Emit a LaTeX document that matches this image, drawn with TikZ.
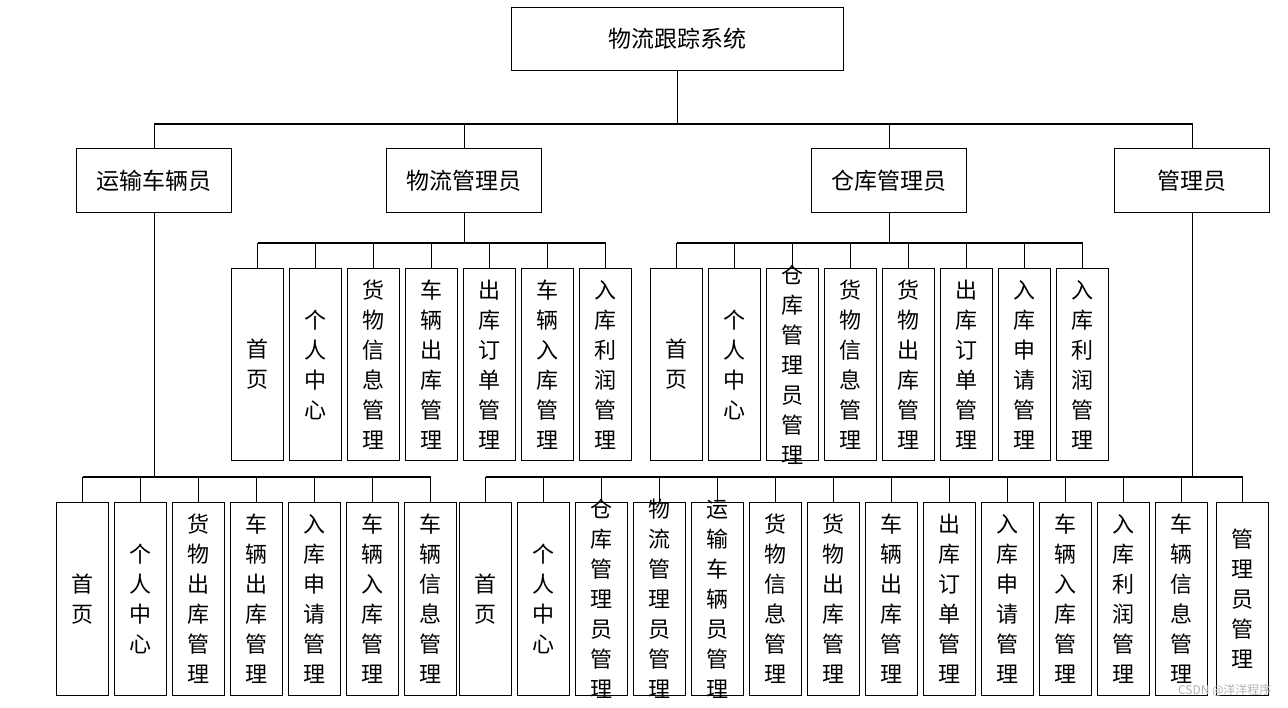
\documentclass[tikz,border=0pt]{standalone}
\usepackage{fontspec}
\newfontfamily\cjk{Noto Sans CJK SC}
\XeTeXlinebreaklocale "zh"
\XeTeXlinebreakskip=0pt plus 1pt
\begin{document}
\begin{tikzpicture}[x=1pt,y=-1pt,
  box/.style={draw,line width=1.2pt,anchor=north west,inner sep=0pt,font=\cjk\fontsize{23}{26}\selectfont},
  hb/.style={box,minimum width=155pt,minimum height=64pt},
  vb/.style={box,minimum width=52pt,minimum height=#1},
  vt/.style={align=center,text width=24pt,inner sep=0pt,font=\cjk\fontsize{22}{30}\selectfont},
  ln/.style={line width=1.2pt}]
\useasboundingbox (0,0) rectangle (1288,707);
\node[hb,minimum width=332pt,minimum height=63pt] (top) at (511,7) {物流跟踪系统};
\node[hb] (a) at (76,148) {运输车辆员};
\node[hb] (b) at (386,148) {物流管理员};
\node[hb] (c) at (811,148) {仓库管理员};
\node[hb] (d) at (1114,148) {管理员};
\coordinate (bus1) at (0,124);
\draw[ln] (top.south) -- (top.south|-bus1);
\draw[ln] (a.north) -- (a.north|-bus1) -- (d.north|-bus1) -- (d.north);
\draw[ln] (b.north) -- (b.north|-bus1);
\draw[ln] (c.north) -- (c.north|-bus1);
% b children
\coordinate (bus2) at (0,243);
\foreach \t [count=\i] in {首页,个人中心,货物信息管理,车辆出库管理,出库订单管理,车辆入库管理,入库利润管理}{
  \node[vb=192pt] (b\i) at (231+58*\i-58,268) {};
  \node[vt] (bt\i) at (b\i.center) {\t};
  \draw[ln] (b\i.north) -- (b\i.north|-bus2);}
\draw[ln] (b.south) -- (b.south|-bus2);
\draw[ln] (b1.north|-bus2) -- (b7.north|-bus2);
% c children
\foreach \t [count=\i] in {首页,个人中心,仓库管理员管理,货物信息管理,货物出库管理,出库订单管理,入库申请管理,入库利润管理}{
  \node[vb=192pt] (c\i) at (650+58*\i-58,268) {};
  \node[vt] (ct\i) at (c\i.center) {\t};
  \draw[ln] (c\i.north) -- (c\i.north|-bus2);}
\draw[ln] (c.south) -- (c.south|-bus2);
\draw[ln] (c1.north|-bus2) -- (c8.north|-bus2);
% a children
\coordinate (bus3) at (0,477);
\foreach \t [count=\i] in {首页,个人中心,货物出库管理,车辆出库管理,入库申请管理,车辆入库管理,车辆信息管理}{
  \node[vb=193pt] (a\i) at (56+58*\i-58,502) {};
  \node[vt] (at\i) at (a\i.center) {\t};
  \draw[ln] (a\i.north) -- (a\i.north|-bus3);}
\draw[ln] (a.south) -- (a.south|-bus3);
\draw[ln] (a1.north|-bus3) -- (a7.north|-bus3);
% d children
\foreach \t [count=\i] in {首页,个人中心,仓库管理员管理,物流管理员管理,运输车辆员管理,货物信息管理,货物出库管理,车辆出库管理,出库订单管理,入库申请管理,车辆入库管理,入库利润管理,车辆信息管理,管理员管理}{
  \pgfmathsetmacro\xx{\i==14 ? 1216 : 459+58*\i-58}
  \node[vb=193pt] (d\i) at (\xx,502) {};
  \node[vt] (dt\i) at (d\i.center) {\t};
  \draw[ln] (d\i.north) -- (d\i.north|-bus3);}
\draw[ln] (d.south) -- (d.south|-bus3);
\draw[ln] (d1.north|-bus3) -- (d14.north|-bus3);
\node[anchor=south east,text=gray!60,font=\cjk\fontsize{12}{12}\selectfont] (wm) at (1275,700) {CSDN @洋洋程序};
\end{tikzpicture}
\end{document}
